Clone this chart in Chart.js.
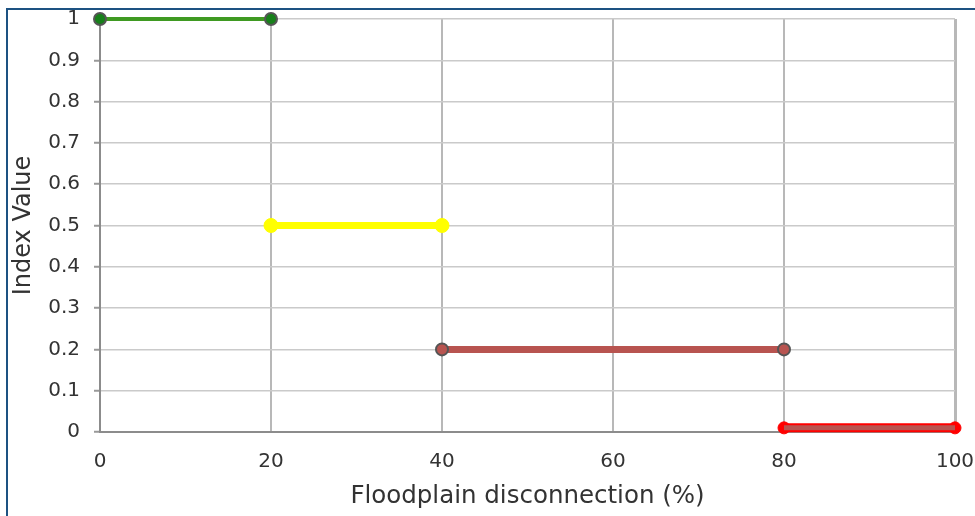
<!DOCTYPE html>
<html>
<head>
<meta charset="utf-8">
<script src="https://cdn.jsdelivr.net/npm/chart.js@4"></script>
<style>
  html, body { margin:0; padding:0; background:#fff; }
  #wrap { position:relative; width:975px; height:516px; overflow:hidden; }
  #frame { position:absolute; left:6px; top:8px; width:975px; height:520px;
           border-top:2px solid #1d5282; border-left:2px solid #1d5282; }
  canvas { position:absolute; left:0; top:0; }
</style>
</head>
<body>
<div id="wrap">
  <div id="frame"></div>
  <canvas id="c" width="975" height="516"></canvas>
</div>
<script>
// Data
const greenX = [0, 20];
const greenY = [1, 1];
const yellowX = [20, 40];
const yellowY = [0.5, 0.5];
const brownX = [40, 80];
const brownY = [0.2, 0.2];
const redX = [80, 100];
const redY = [0.01, 0.01];
const yTickLabels = ['0','0.1','0.2','0.3','0.4','0.5','0.6','0.7','0.8','0.9','1'];
const xTickLabels = ['0','20','40','60','80','100'];
const xTitle = 'Floodplain disconnection (%)';
const yTitle = 'Index Value';

const pts = (xs, ys) => xs.map((x, i) => ({x: x, y: ys[i]}));
const FONT = 'DejaVu Sans';

const datasets = [
  { data: pts(redX, redY), borderColor:'#ff0000', borderWidth:9, pointRadius:6,
    pointBackgroundColor:'#ff0000', pointBorderColor:'#ff0000', pointBorderWidth:1, order:1 },
  { data: pts(redX, redY), borderColor:'#b85450', borderWidth:5, pointRadius:0, order:0 },
  { data: pts(brownX, brownY), borderColor:'#b85450', borderWidth:7, pointRadius:6,
    pointBackgroundColor:'#b85450', pointBorderColor:'#555555', pointBorderWidth:2, order:2 },
  { data: pts(yellowX, yellowY), borderColor:'#ffff00', borderWidth:7, pointRadius:7,
    pointBackgroundColor:'#ffff00', pointBorderColor:'#ffff00', pointBorderWidth:1, order:3 },
  { data: pts(greenX, greenY), borderColor:'#3f9a22', borderWidth:4, pointRadius:6,
    pointBackgroundColor:'#17801a', pointBorderColor:'#555555', pointBorderWidth:2, order:4 }
].map(d => Object.assign({ showLine:true, clip:false, tension:0, pointHoverRadius:6 }, d));

new Chart(document.getElementById('c'), {
  type: 'scatter',
  data: { datasets },
  options: {
    responsive:false,
    animation:false,
    events:[],
    layout:{ autoPadding:false, padding:{ left:0, top:19, right:20, bottom:0 } },
    plugins:{ legend:{display:false}, tooltip:{enabled:false} },
    scales:{
      x:{
        type:'linear', min:0, max:100,
        afterFit: s => { s.height = 84; s.paddingLeft = 0; s.paddingRight = 0; },
        border:{ color:'#8c8c8c', width:2 },
        grid:{ color:'#b8b8b8', lineWidth: ctx => ctx.index === 5 ? 3 : 2, drawTicks:false },
        ticks:{ stepSize:20, padding:18, color:'#333', font:{family:FONT, size:20},
                callback:(v) => xTickLabels[Math.round(v/20)] ?? '' },
        title:{ display:true, text:xTitle, color:'#333', font:{family:FONT, size:24.5}, padding:{top:0,bottom:5} }
      },
      y:{
        min:0, max:1,
        afterFit: s => { s.width = 100; s.paddingTop = 0; s.paddingBottom = 0; },
        border:{ color:'#8c8c8c', width:2 },
        grid:{ color:'#cacaca', lineWidth:1.5, tickLength:6, tickColor:'#999', tickWidth:2 },
        ticks:{ stepSize:0.1, padding:14, color:'#333', font:{family:FONT, size:20},
                callback:(v) => yTickLabels[Math.round(v*10)] ?? '' },
        title:{ display:true, text:yTitle, color:'#333', font:{family:FONT, size:24}, padding:{top:9,bottom:0} }
      }
    }
  }
});
</script>
</body>
</html>
